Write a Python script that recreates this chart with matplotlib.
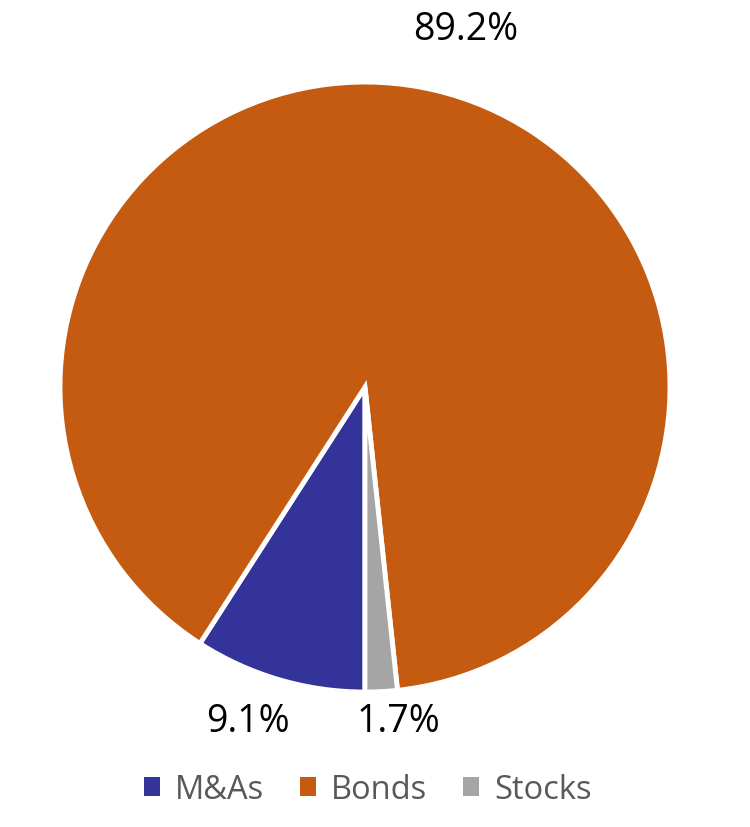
import matplotlib.pyplot as plt

# data
categories = ["M&As", "Bonds", "Stocks"]
shares = [9.1, 89.2, 1.7]
colors = ["#333399", "#C55A11", "#A5A5A5"]

# where Excel's best-fit put the data labels (axes data units, radius = 1)
label_xy = [(-0.385, -1.095), (0.33, 1.175), (0.11, -1.095)]

plt.rcParams['font.family'] = ['Open Sans', 'DejaVu Sans']

fig = plt.figure(figsize=(7.5, 8.28), dpi=100)
ax = fig.add_axes([0.08, 0.163, 0.8133, 0.7367])

wedges, texts, pcts = ax.pie(
    shares, colors=colors, startangle=-90, counterclock=False,
    autopct=lambda p: "%.1f%%" % p, pctdistance=1.18,
    wedgeprops=dict(edgecolor="white", linewidth=3.5),
    textprops=dict(fontsize=27, color="black"))
for t, xy in zip(pcts, label_xy):
    t.set_position(xy)
ax.set_xlim(-1, 1)
ax.set_ylim(-1, 1)
ax.set_aspect("equal")

leg = fig.legend(wedges, categories, loc="center", bbox_to_anchor=(0.49, 0.045),
                 ncol=3, frameon=False, fontsize=23.5, handlelength=0.5,
                 handleheight=0.5, handletextpad=0.45, columnspacing=1.1,
                 labelcolor="#595959")
for h in leg.legend_handles:
    h.set_edgecolor("none")

fig.savefig("out.png", dpi=100)
